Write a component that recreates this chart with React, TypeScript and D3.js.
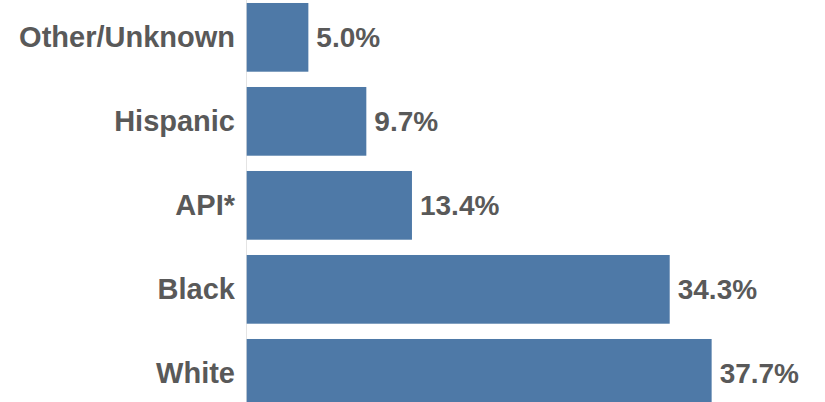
import React from "react";
import * as d3 from "d3";

const categories = ["Other/Unknown", "Hispanic", "API*", "Black", "White"];
const values = [5.0, 9.7, 13.4, 34.3, 37.7];
const valueLabels = ["5.0%", "9.7%", "13.4%", "34.3%", "37.7%"];

const W = 825;
const H = 402;

export default function App() {
  const x = d3.scaleLinear().domain([0, 40]).range([246.7, 740]);
  const y = d3
    .scaleBand<string>()
    .domain(categories)
    .range([-4.65, 415.35])
    .paddingInner(0.182)
    .paddingOuter(0.091);

  const font = "'Liberation Sans', Arial, sans-serif";
  return (
    <svg
      width={W}
      height={H}
      style={{ position: "fixed", left: 0, top: 0, background: "#fff" }}
    >
      <line x1={246.5} x2={246.5} y1={0} y2={H} stroke="#E4E4E4" strokeWidth={1} />
      {categories.map((c, i) => {
        const y0 = y(c)!;
        const bw = y.bandwidth();
        const cy = y0 + bw / 2;
        return (
          <g key={c}>
            <rect
              x={x(0)}
              y={y0}
              width={x(values[i]) - x(0)}
              height={bw}
              fill="#4E79A7"
            />
            <text
              x={235}
              y={cy}
              dy="0.34em"
              textAnchor="end"
              fontFamily={font}
              fontWeight="bold"
              fontSize={29}
              fill="#595959"
            >
              {c}
            </text>
            <text
              x={x(values[i]) + 8}
              y={cy}
              dy="0.34em"
              textAnchor="start"
              fontFamily={font}
              fontWeight="bold"
              fontSize={28}
              fill="#595959"
            >
              {valueLabels[i]}
            </text>
          </g>
        );
      })}
    </svg>
  );
}
